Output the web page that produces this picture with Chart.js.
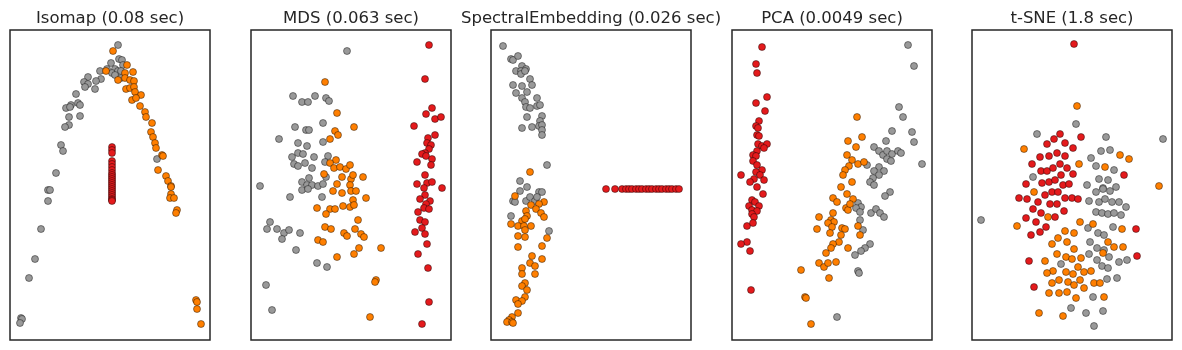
<!DOCTYPE html>
<html>
<head>
<meta charset="utf-8">
<script src="https://cdn.jsdelivr.net/npm/chart.js@4.4.1/dist/chart.umd.min.js"></script>
<style>
  html, body { margin: 0; padding: 0; background: #ffffff; }
  body { width: 1182px; height: 350px; position: relative; overflow: hidden; }
  canvas { position: absolute; top: 0; }
</style>
</head>
<body>
<script>
// ---- data (arbitrary embedding units) ----
const panelTitles = ['Isomap (0.08 sec)', 'MDS (0.063 sec)', 'SpectralEmbedding (0.026 sec)', 'PCA (0.0049 sec)', 't-SNE (1.8 sec)'];
const classNames = ['red', 'orange', 'grey'];

const isomapRed = [[102,193],[102,190],[102,187],[102,179],[102,176],[102,173],[102,170],[102,167],[102,165],[102,163],[102,161],[102,159],[102,157],[102,155],[102,153],[102,151],[102,149],[102,147],[102,145],[102,143],[102,141],[102,140],[102,139]];
const isomapOrange = [[103,289],[117,275],[96,269],[115,267],[123,268],[108,260],[115,262],[120,260],[124,259],[116,251],[120,252],[124,253],[125,248],[131,245],[122,240],[126,242],[130,234],[135,228],[136,223],[142,217],[141,208],[143,203],[145,197],[146,192],[152,185],[153,184],[148,170],[156,164],[158,159],[161,154],[161,153],[161,146],[160,142],[164,142],[167,130],[166,127],[186,40],[187,38],[187,31],[191,16]];
const isomapGrey = [[108,295],[109,281],[112,280],[101,277],[113,275],[97,271],[105,271],[102,267],[108,269],[111,269],[90,269],[105,265],[111,262],[91,261],[86,259],[78,263],[74,258],[78,256],[75,253],[85,251],[66,246],[68,237],[70,235],[61,235],[56,232],[60,233],[59,223],[70,224],[59,215],[55,213],[51,195],[53,189],[46,167],[147,181],[38,150],[40,150],[38,139],[31,111],[25,81],[19,62],[11,22],[12,21],[10,17]];

const mdsRed = [[178,295],[174,261],[181,232],[175,226],[184,221],[190,223],[163,214],[177,202],[184,205],[176,197],[180,195],[178,191],[174,187],[171,186],[175,184],[181,181],[166,178],[180,175],[174,165],[166,156],[176,157],[181,158],[173,152],[191,152],[174,145],[169,141],[179,139],[175,136],[173,132],[178,131],[167,128],[169,120],[174,118],[164,108],[171,112],[174,106],[176,96],[167,86],[177,72],[178,38],[171,16]];
const mdsOrange = [[74,258],[86,227],[103,213],[84,209],[87,205],[79,201],[85,180],[79,177],[83,172],[89,173],[95,171],[99,175],[73,166],[91,163],[100,161],[102,165],[112,163],[86,156],[99,155],[82,149],[91,147],[100,149],[105,149],[102,140],[115,142],[99,133],[103,135],[92,134],[66,132],[79,131],[84,131],[75,126],[107,120],[74,113],[80,111],[104,111],[93,107],[96,104],[110,106],[113,103],[67,100],[72,98],[108,92],[130,92],[86,83],[103,86],[125,60],[124,58],[119,23]];
const mdsGrey = [[96,289],[42,244],[51,238],[57,238],[64,244],[75,242],[78,239],[44,213],[55,210],[58,210],[72,217],[28,201],[47,197],[56,194],[72,198],[41,183],[47,187],[52,186],[63,183],[77,184],[74,178],[43,176],[47,174],[54,177],[61,172],[58,162],[51,158],[56,155],[61,155],[67,154],[72,156],[75,163],[9,154],[51,150],[57,151],[39,143],[71,143],[19,118],[16,111],[26,111],[33,107],[38,110],[31,101],[49,107],[45,90],[66,77],[76,73],[15,55],[21,30]];

const spectralRed = [[115,151],[124,151],[131,151],[135,151],[138,151],[141,151],[145,151],[148,151],[151,151],[155,151],[158,151],[161,151],[165,151],[168,151],[171,151],[175,151],[178,151],[181,151],[185,151],[188,151]];
const spectralOrange = [[39,168],[24,144],[53,138],[40,135],[48,136],[35,129],[45,131],[50,127],[53,123],[36,124],[31,119],[34,121],[20,116],[27,114],[33,114],[40,114],[34,110],[27,104],[34,103],[56,102],[27,93],[51,94],[41,84],[51,81],[39,77],[44,74],[31,72],[31,66],[44,66],[34,57],[31,54],[36,50],[34,43],[25,40],[31,39],[27,36],[27,27],[21,23],[18,20],[16,18],[21,18],[22,17]];
const spectralGrey = [[12,294],[20,281],[22,280],[27,284],[31,274],[35,271],[25,269],[30,269],[30,266],[34,269],[39,261],[41,255],[22,255],[31,254],[25,247],[36,248],[46,242],[31,242],[34,238],[35,233],[39,232],[46,234],[49,235],[36,223],[51,224],[49,219],[31,212],[41,213],[48,214],[51,215],[51,210],[51,205],[56,175],[29,159],[36,153],[29,149],[48,148],[51,148],[22,139],[24,138],[35,139],[39,143],[44,139],[46,143],[20,124],[58,109]];

const pcaRed = [[30,293],[24,276],[25,267],[35,243],[24,237],[33,229],[27,219],[24,214],[26,212],[25,205],[27,204],[26,196],[30,194],[35,196],[32,192],[25,189],[21,185],[24,184],[21,179],[25,175],[30,170],[24,168],[28,165],[9,165],[22,161],[32,160],[18,158],[25,153],[31,146],[20,140],[23,138],[27,134],[17,134],[20,130],[25,129],[20,126],[22,123],[15,114],[21,117],[15,98],[9,96],[18,89],[19,50]];
const pcaOrange = [[125,223],[130,203],[116,199],[124,193],[115,185],[120,180],[117,174],[126,176],[132,178],[113,170],[111,165],[120,158],[109,153],[115,146],[101,142],[105,138],[121,141],[114,132],[116,130],[118,136],[101,127],[87,123],[99,120],[102,118],[96,117],[100,113],[85,111],[110,112],[113,111],[126,114],[98,107],[109,105],[128,105],[107,98],[101,96],[116,92],[99,92],[94,87],[87,77],[92,73],[96,77],[104,78],[69,70],[97,62],[73,43],[74,42],[79,16]];
const pcaGrey = [[176,295],[182,274],[167,233],[171,223],[160,209],[180,208],[182,198],[154,199],[142,193],[147,189],[151,185],[155,189],[160,186],[166,189],[169,187],[155,181],[159,179],[135,175],[147,173],[142,169],[152,169],[147,165],[190,176],[141,162],[138,158],[142,155],[158,148],[153,144],[126,137],[129,133],[124,132],[128,128],[139,127],[144,131],[148,127],[152,123],[128,120],[131,110],[138,96],[133,92],[129,89],[123,85],[126,69],[127,67],[105,23]];

const tsneRed = [[102,296],[109,203],[88,206],[82,201],[75,196],[93,197],[101,192],[68,183],[77,184],[85,187],[93,184],[60,176],[69,169],[75,169],[81,172],[88,176],[95,172],[101,166],[89,165],[54,156],[70,157],[77,158],[83,160],[91,155],[97,156],[152,165],[47,142],[55,141],[66,138],[73,145],[80,148],[86,148],[78,136],[85,136],[93,142],[100,142],[106,141],[61,131],[69,127],[92,129],[83,123],[54,122],[64,118],[74,113],[59,105],[68,108],[164,111],[165,84],[57,79],[62,53]];
const tsneOrange = [[105,234],[52,191],[107,176],[133,173],[148,185],[157,181],[187,154],[62,148],[76,123],[45,114],[108,118],[121,116],[150,111],[93,109],[102,107],[86,102],[95,98],[80,96],[102,91],[136,98],[142,93],[151,93],[131,87],[85,86],[94,83],[100,81],[109,82],[73,79],[106,73],[81,69],[75,67],[94,68],[101,66],[112,68],[119,69],[80,57],[87,60],[96,58],[102,55],[108,60],[112,52],[122,57],[128,57],[77,47],[87,47],[95,48],[104,42],[132,43],[67,27],[91,24]];
const tsneGrey = [[104,216],[65,206],[134,203],[191,201],[119,182],[129,189],[138,190],[124,174],[142,170],[61,163],[127,161],[136,160],[115,155],[131,152],[144,153],[9,120],[124,148],[131,151],[138,149],[117,139],[127,138],[133,141],[140,138],[147,138],[154,133],[124,128],[130,127],[136,126],[142,127],[149,125],[116,112],[126,107],[132,105],[141,113],[118,98],[125,92],[132,90],[137,83],[117,86],[125,80],[130,74],[136,72],[147,78],[155,80],[89,76],[135,61],[145,62],[121,43],[99,32],[114,27],[131,29],[122,14]];

const panelSeries = [
  [isomapRed, isomapOrange, isomapGrey],
  [mdsRed, mdsOrange, mdsGrey],
  [spectralRed, spectralOrange, spectralGrey],
  [pcaRed, pcaOrange, pcaGrey],
  [tsneRed, tsneOrange, tsneGrey]
];
const xRange = [0, 200];
const yRange = [0, 310];

// ---- layout / style ----
const frameLefts = [10, 251, 491, 732, 972];
const sidePad = 40;
const frameW = 200;
const classColors = ['#e41a1c', '#ff7f00', '#999999'];

const framePlugin = {
  id: 'frameAndTitle',
  afterDatasetsDraw(chart, args, opts) {
    const a = chart.chartArea, ctx = chart.ctx;
    ctx.save();
    ctx.strokeStyle = '#262626';
    ctx.lineWidth = 1.5;
    ctx.strokeRect(a.left, a.top, a.right - a.left, a.bottom - a.top);
    ctx.fillStyle = '#262626';
    ctx.font = '16.5px "DejaVu Sans"';
    ctx.textAlign = 'center';
    ctx.textBaseline = 'alphabetic';
    ctx.fillText(opts.text, (a.left + a.right) / 2, 23);
    ctx.restore();
  }
};

panelTitles.forEach((title, p) => {
  const cv = document.createElement('canvas');
  cv.width = frameW + 2 * sidePad;
  cv.height = 350;
  cv.style.left = (frameLefts[p] - sidePad) + 'px';
  cv.style.width = cv.width + 'px';
  cv.style.height = '350px';
  document.body.appendChild(cv);

  const datasets = panelSeries[p].map((pts, k) => ({
    label: classNames[k],
    data: pts.map(([x, y]) => ({ x, y })),
    backgroundColor: classColors[k],
    borderColor: 'rgba(0,0,0,0.85)',
    borderWidth: 0.5,
    pointRadius: 3.5,
    pointHoverRadius: 3.5
  }));

  new Chart(cv, {
    type: 'scatter',
    data: { datasets },
    options: {
      responsive: false,
      animation: false,
      devicePixelRatio: 1,
      layout: { padding: { left: sidePad, right: sidePad, top: 30, bottom: 10 } },
      plugins: {
        legend: { display: false },
        tooltip: { enabled: false },
        title: { display: false },
        frameAndTitle: { text: title }
      },
      scales: {
        x: { type: 'linear', min: xRange[0], max: xRange[1], display: false },
        y: { type: 'linear', min: yRange[0], max: yRange[1], display: false }
      },
      clip: false
    },
    plugins: [framePlugin]
  });
});
</script>
</body>
</html>
